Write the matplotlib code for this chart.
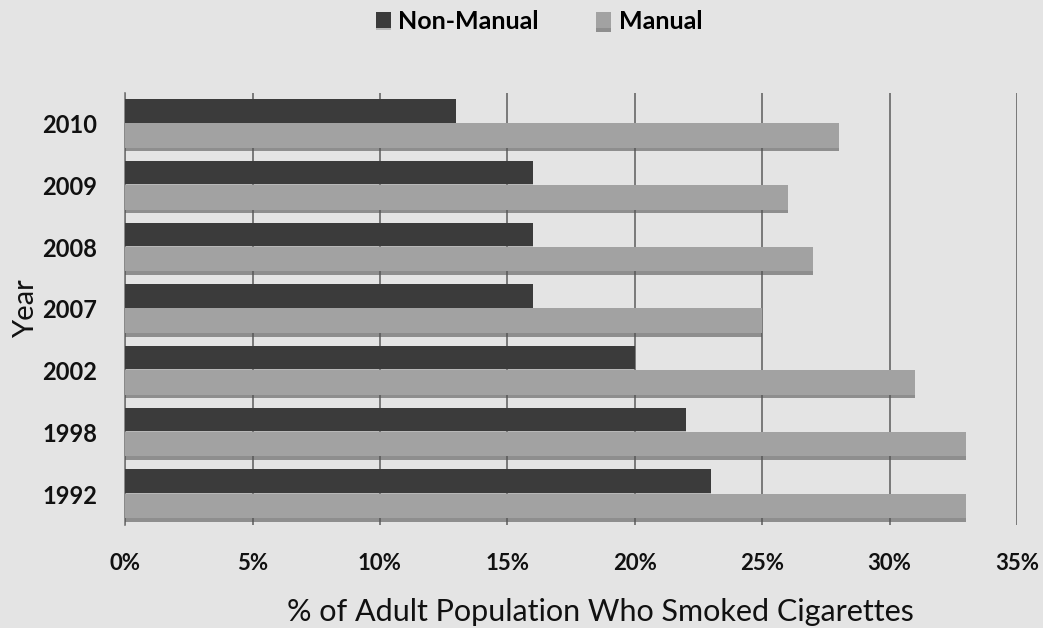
import numpy as np
import matplotlib
matplotlib.use("Agg")
import matplotlib.pyplot as plt
import matplotlib.patheffects as pe
from matplotlib.ticker import FuncFormatter

# --- datos ---
anios = ["1992", "1998", "2002", "2007", "2008", "2009", "2010"]
no_manual = [23, 22, 20, 16, 16, 16, 13]
manual = [33, 33, 31, 25, 27, 26, 28]

plt.rcParams["font.family"] = ["Lato", "DejaVu Sans"]

FONDO = "#e4e4e4"
OSCURO = "#3b3b3b"
CLARO = "#a2a2a2"

fig = plt.figure(figsize=(10.43, 6.28), dpi=100, facecolor=FONDO)
ax = fig.add_axes([0.12, 0.164, 0.855, 0.688], facecolor=FONDO)

y = np.arange(len(anios))
sombra = [pe.SimplePatchShadow(offset=(0, -2.5), shadow_rgbFace="#555555", alpha=0.6),
          pe.Normal()]

b1 = ax.barh(y + 0.21, no_manual, height=0.38, color=OSCURO, zorder=3,
             label="Non-Manual")
b2 = ax.barh(y - 0.19, manual, height=0.4, color=CLARO, zorder=3,
             label="Manual")
for r in b2:
    r.set_path_effects(sombra)
for r in b1:
    r.set_path_effects([pe.SimplePatchShadow(offset=(0, -1.5), shadow_rgbFace="#777777", alpha=0.4),
                        pe.Normal()])

ax.set_xlim(0, 35)
ax.set_ylim(-0.5, len(anios) - 0.5)
ax.set_xticks(np.arange(0, 36, 5))
ax.xaxis.set_major_formatter(FuncFormatter(lambda v, _: f"{v:.0f}%"))
ax.set_yticks(y)
ax.set_yticklabels(anios)

ax.grid(axis="x", color="#666666", lw=1.2, zorder=1)
ax.tick_params(axis="both", length=0, colors="#111111")
ax.tick_params(axis="x", pad=20, labelsize=16)
ax.tick_params(axis="y", pad=20, labelsize=17)
for lab in ax.get_xticklabels() + ax.get_yticklabels():
    lab.set_fontweight("bold")

for s in ["top", "right", "bottom"]:
    ax.spines[s].set_visible(False)
ax.spines["left"].set_color("#777777")
ax.spines["left"].set_linewidth(1.2)

ax.set_xlabel("% of Adult Population Who Smoked Cigarettes", fontsize=22,
              color="#111111")
ax.xaxis.set_label_coords(0.533, -0.17)
ax.set_ylabel("Year", fontsize=21, color="#111111")
ax.yaxis.set_label_coords(-0.097, 0.5)

fig.legend(handles=[b1, b2], labels=["Non-Manual", "Manual"], loc="upper center",
           bbox_to_anchor=(0.517, 1.02), ncol=2, frameon=False,
           prop={"weight": "bold", "size": 18}, handlelength=0.6,
           handleheight=0.6, handletextpad=0.3, columnspacing=2.3)

fig.savefig("out.png", dpi=100, facecolor=FONDO)
